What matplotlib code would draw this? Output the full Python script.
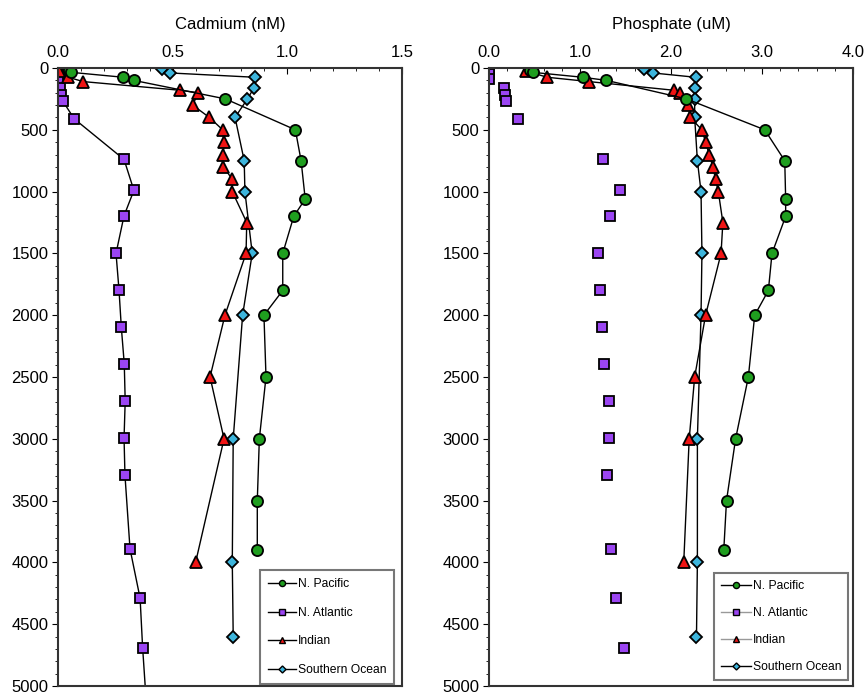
import matplotlib
matplotlib.use("Agg")
import matplotlib.pyplot as plt
from matplotlib.lines import Line2D
from matplotlib.ticker import MultipleLocator, FormatStrFormatter

plt.rcParams['font.family'] = ['Liberation Sans', 'DejaVu Sans']

# depth profiles (m)
pac_depth = [15, 35, 75, 100, 250, 500, 750, 1060, 1200, 1500, 1800, 2000, 2500, 3000, 3500, 3900]
pac_cd = [0.05, 0.057, 0.285, 0.33, 0.73, 1.035, 1.06, 1.078, 1.028, 0.98, 0.98, 0.898, 0.907, 0.878, 0.869, 0.869]
pac_po4 = [0.45, 0.48, 1.03, 1.29, 2.17, 3.03, 3.25, 3.26, 3.26, 3.11, 3.07, 2.92, 2.85, 2.71, 2.61, 2.58]

atl_depth = [5, 45, 90, 165, 215, 270, 410, 740, 990, 1195, 1500, 1795, 2095, 2395, 2695,
             2995, 3295, 3890, 4290, 4690]
atl_cd = [0.0, 0.0, 0.002, 0.008, 0.015, 0.022, 0.07, 0.288, 0.331, 0.288, 0.253, 0.266, 0.276,
          0.289, 0.293, 0.288, 0.292, 0.314, 0.358, 0.369]
atl_po4 = [0.0, 0.0, 0.0, 0.165, 0.176, 0.19, 0.32, 1.25, 1.44, 1.33, 1.20, 1.22, 1.24, 1.26,
           1.32, 1.32, 1.30, 1.34, 1.40, 1.48]
# one more Cd sample below the plotted range
atl_deep_depth = [5300]
atl_deep_cd = [0.391]

ind_depth = [25, 75, 110, 180, 200, 300, 400, 500, 600, 700, 800, 900, 1000, 1250, 1500,
             2000, 2500, 3000, 4000]
ind_cd = [0.006, 0.045, 0.11, 0.532, 0.612, 0.587, 0.66, 0.718, 0.724, 0.721, 0.721, 0.76,
          0.76, 0.823, 0.82, 0.728, 0.663, 0.724, 0.60]
ind_po4 = [0.41, 0.64, 1.10, 2.03, 2.10, 2.19, 2.21, 2.34, 2.38, 2.42, 2.46, 2.49, 2.52, 2.57,
           2.55, 2.38, 2.26, 2.20, 2.14]

so_depth = [10, 40, 75, 160, 250, 400, 750, 1000, 1500, 2000, 3000, 4000, 4600]
so_cd = [0.455, 0.488, 0.859, 0.855, 0.826, 0.772, 0.812, 0.815, 0.847, 0.805, 0.764, 0.76, 0.764]
so_po4 = [1.70, 1.80, 2.27, 2.26, 2.26, 2.26, 2.29, 2.33, 2.34, 2.33, 2.29, 2.29, 2.28]

labels = ['N. Pacific', 'N. Atlantic', 'Indian', 'Southern Ocean']
colors = ['#1f9e1f', '#9b45f2', '#f01414', '#3db5dc']
markers = ['o', 's', '^', 'D']
sizes = [8, 7, 9, 6.5]

fig = plt.figure(figsize=(8.66, 6.96), dpi=100)
ax1 = fig.add_axes([58 / 866, 10 / 696, 344 / 866, 618 / 696])
ax2 = fig.add_axes([489 / 866, 10 / 696, 364 / 866, 618 / 696])


def style(i, lw=1.0):
    return dict(marker=markers[i], markerfacecolor=colors[i], markeredgecolor='black',
                markeredgewidth=1.3, markersize=sizes[i], color='black', linewidth=lw)


# Cadmium
ax1.plot(atl_cd + atl_deep_cd, atl_depth + atl_deep_depth, **style(1))
ax1.plot(so_cd, so_depth, **style(3))
ax1.plot(ind_cd, ind_depth, **style(2))
ax1.plot(pac_cd, pac_depth, **style(0))

# Phosphate (N. Atlantic shown as points only)
ax2.plot(atl_po4, atl_depth, linestyle='none', **style(1))
ax2.plot(so_po4, so_depth, **style(3))
ax2.plot(ind_po4, ind_depth, **style(2))
ax2.plot(pac_po4, pac_depth, **style(0))

# axes, anchor, handle line colours, labelspacing, borderpad, handlelength
legend_cfg = [(ax1, (1 - 8 / 344, 2 / 618), ['black'] * 4, 1.38, 0.65, 2.3),
              (ax2, (1 - 5 / 364, 6 / 618), ['black', '#999999', '#999999', 'black'], 1.25, 0.55, 2.5)]

for ax, xmax, major, minor, title in [
        (ax1, 1.5, 0.5, 0.1, 'Cadmium (nM)'),
        (ax2, 4.0, 1.0, 0.2, 'Phosphate (uM)')]:
    ax.set_xlim(0, xmax)
    ax.set_ylim(5000, 0)
    ax.xaxis.set_major_locator(MultipleLocator(major))
    ax.xaxis.set_minor_locator(MultipleLocator(minor))
    ax.xaxis.set_major_formatter(FormatStrFormatter('%.1f'))
    ax.yaxis.set_major_locator(MultipleLocator(500))
    ax.yaxis.set_minor_locator(MultipleLocator(100))
    ax.xaxis.tick_top()
    ax.xaxis.set_label_position('top')
    ax.set_xlabel(title, fontsize=12, labelpad=11)
    ax.tick_params(axis='x', which='major', direction='in', length=4, labelsize=12, pad=6)
    ax.tick_params(axis='x', which='minor', direction='in', length=2.5)
    ax.tick_params(axis='y', which='major', direction='out', length=4, labelsize=12, pad=3)
    ax.tick_params(axis='y', which='minor', direction='out', length=2.5)
    for sp in ax.spines.values():
        sp.set_linewidth(1.5)
        sp.set_color('#333333')

for ax, anchor, line_cols, lsp, bpad, hlen in legend_cfg:
    handles = [Line2D([], [], marker=markers[i], markerfacecolor=colors[i],
                      markeredgecolor='black', markeredgewidth=1.0, markersize=sizes[i] * 0.55,
                      color=line_cols[i], linewidth=1.0) for i in range(4)]
    leg = ax.legend(handles, labels, loc='lower right', bbox_to_anchor=anchor,
                    borderaxespad=0, fontsize=8.7, handlelength=hlen, handletextpad=0.15,
                    labelspacing=lsp, borderpad=bpad, fancybox=False, framealpha=1)
    leg.get_frame().set_edgecolor('#777777')
    leg.get_frame().set_linewidth(1.5)

fig.savefig('out.png', dpi=100)
